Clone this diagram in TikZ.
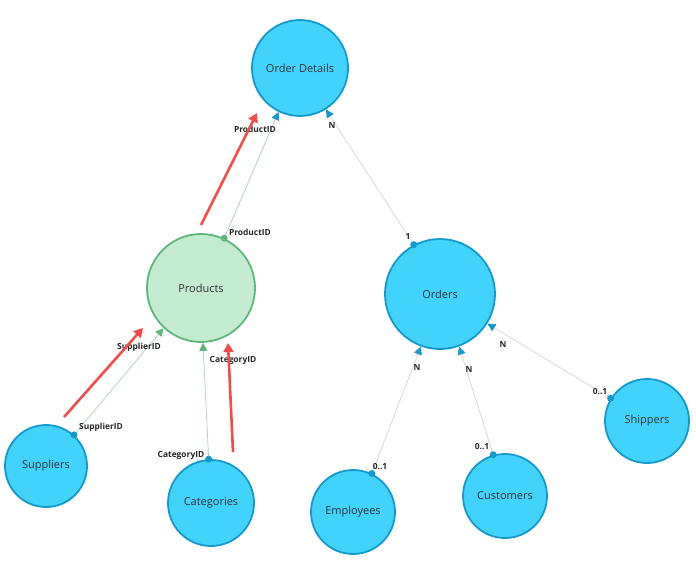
\documentclass[tikz,border=0pt]{standalone}
\usepackage{fontspec}
\setmainfont{Open Sans}
\usetikzlibrary{arrows.meta}
\definecolor{cyanfill}{HTML}{42D3FD}
\definecolor{cyanline}{HTML}{1499CF}
\definecolor{grnfill}{HTML}{C3EBCF}
\definecolor{grnline}{HTML}{5CB67A}
\definecolor{grnconn}{HTML}{A3D6B1}
\definecolor{grayconn}{HTML}{D4D4D4}
\definecolor{redarrow}{HTML}{F44A4A}
\definecolor{txt}{HTML}{333333}
\tikzset{
  entity/.style={circle, draw=cyanline, fill=cyanfill, line width=1.8pt, inner sep=0pt, text=txt, font=\fontsize{11}{13}\selectfont},
  prodentity/.style={entity, draw=grnline, fill=grnfill},
  conn/.style={line width=0.7pt},
  lbl/.style={font=\fontsize{8.4}{10}\selectfont\bfseries, text=black!85, inner sep=0pt},
  bluetip/.style={-{Triangle[length=8pt,width=8pt,color=cyanline]}},
  greentip/.style={-{Triangle[length=8pt,width=8pt,color=grnline]}},
  redarr/.style={draw=redarrow, line width=2.6pt, -{Triangle[length=9pt,width=10pt]}},
}
\begin{document}
\begin{tikzpicture}[x=1pt,y=-1pt]
\useasboundingbox (0,0) rectangle (696,567);

% nodes
\node[entity, minimum size=96pt] (od) at (300,68) {Order Details};
\node[prodentity, minimum size=108pt] (prod) at (201,288) {Products};
\node[entity, minimum size=110pt] (ord) at (440,294) {Orders};
\node[entity, minimum size=82pt] (sup) at (46,466) {Suppliers};
\node[entity, minimum size=86pt] (cat) at (211,503) {Categories};
\node[entity, minimum size=84pt] (emp) at (353,512) {Employees};
\node[entity, minimum size=84pt] (cus) at (505,496) {Customers};
\node[entity, minimum size=84pt] (shp) at (647,421) {Shippers};

% connectors
\draw[conn, draw=grnconn, bluetip] (prod.65.6) -- (od.244);
\draw[conn, draw=grayconn, bluetip] (ord.118) -- (od.302);
\draw[conn, draw=grnconn, greentip] (sup.48.7) -- (prod.227);
\draw[conn, draw=grnconn, greentip] (cat.93) -- (prod.272);
\draw[conn, draw=grayconn, bluetip] (emp.64.6) -- (ord.250);
\draw[conn, draw=grayconn, bluetip] (cus.106) -- (ord.290);
\draw[conn, draw=grayconn, bluetip] (shp.148) -- (ord.328);

% start dots
\fill[grnline] (prod.65.6) circle (3.5pt);
\fill[cyanline] (ord.118) circle (3.5pt);
\fill[cyanline] (sup.48.7) circle (3.5pt);
\fill[cyanline] (cat.93) circle (3.5pt);
\fill[cyanline] (emp.64.6) circle (3.5pt);
\fill[cyanline] (cus.106) circle (3.5pt);
\fill[cyanline] (shp.148) circle (3.5pt);

% labels
\node[lbl] (l1) at (255,129) {ProductID};
\node[lbl] (l2) at (250,232) {ProductID};
\node[lbl] (l3) at (332,126) {N};
\node[lbl] (l4) at (408,237) {1};
\node[lbl] (l5) at (139,347) {SupplierID};
\node[lbl] (l6) at (101,427) {SupplierID};
\node[lbl] (l7) at (233,360) {CategoryID};
\node[lbl] (l8) at (181,455) {CategoryID};
\node[lbl] (l9) at (417,367) {N};
\node[lbl] (l10) at (380,467) {0..1};
\node[lbl] (l11) at (469,369) {N};
\node[lbl] (l12) at (482,447) {0..1};
\node[lbl] (l13) at (503,344) {N};
\node[lbl] (l14) at (600,392) {0..1};

% red annotation arrows
\coordinate (r1s) at (201,225);
\coordinate (r1e) at (257,113);
\coordinate (r2s) at (64,417);
\coordinate (r2e) at (143,328);
\coordinate (r3s) at (233,452);
\coordinate (r3e) at (228,343);
\draw[redarr] (r1s) -- (r1e);
\draw[redarr] (r2s) -- (r2e);
\draw[redarr] (r3s) -- (r3e);
\end{tikzpicture}
\end{document}
